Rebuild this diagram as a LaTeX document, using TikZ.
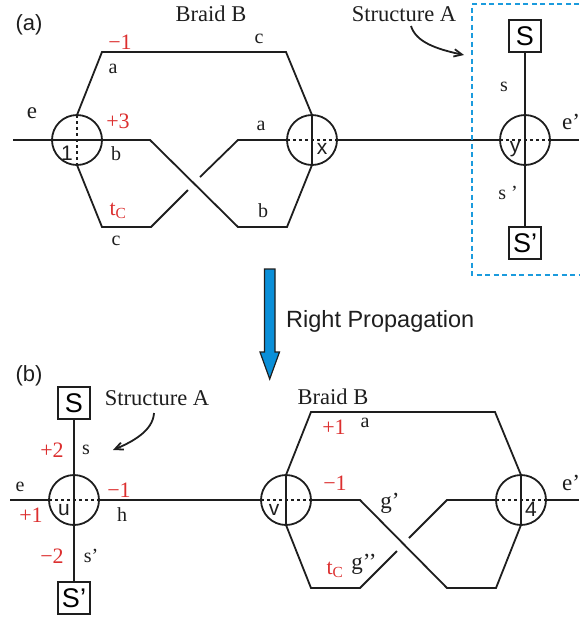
\documentclass[tikz,border=0pt]{standalone}
\usepackage{fontspec}
\setmainfont{Liberation Serif}
\newfontfamily\arialf{Liberation Sans}
\usetikzlibrary{arrows.meta}
\definecolor{lblred}{HTML}{DC2F2F}
\definecolor{inkc}{HTML}{1E1E1E}
\definecolor{boxblue}{HTML}{1B9BDD}
\definecolor{arrowblue}{HTML}{0A8FD8}
\newcommand{\sansmark}{\arialf\fontsize{21}{21}\selectfont}
\tikzset{
  wire/.style={draw=inkc,line width=1.8pt,line join=miter},
  dotwire/.style={draw=inkc,line width=1.8pt,dash pattern=on 3pt off 3pt},
  junction/.style={circle,draw=inkc,line width=1.8pt,minimum size=50pt,inner sep=0pt,outer sep=0pt},
  endbox/.style={rectangle,draw=inkc,line width=1.8pt,minimum size=32pt,inner sep=0pt,outer sep=0pt,font=\arialf\fontsize{27}{27}\selectfont},
  lbl/.style={inner sep=0pt,text=inkc,font=\fontsize{20}{20}\selectfont},
  big/.style={inner sep=0pt,text=inkc,font=\fontsize{23}{23}\selectfont},
  redl/.style={inner sep=0pt,text=lblred,font=\fontsize{22}{22}\selectfont},
  title/.style={inner sep=0pt,text=inkc,font=\fontsize{22.5}{22.5}\selectfont},
  sanl/.style={inner sep=0pt,text=inkc,font=\arialf\fontsize{23.5}{23.5}\selectfont},
  curvearrow/.style={draw=inkc,line width=1.8pt,-{Straight Barb[length=8pt,width=15pt,angle'=50]}},
}
\begin{document}
\begin{tikzpicture}[x=1pt,y=-1pt]
\useasboundingbox (0,0) rectangle (579,619);
% ---------- (a) ----------
\node[junction] (c1) at (77,140) {};
\node[junction] (cx) at (312,140) {};
\node[junction] (cy) at (525,140) {};
\node[endbox] (S1) at (525,36) {S};
\node[endbox] (S1p) at (525,243) {S’};
\coordinate (eL) at (13,140);
\coordinate (eR) at (579,140);
\coordinate (ta1) at (102,52); \coordinate (ta2) at (286,52);
\coordinate (ba1) at (102,227); \coordinate (ba2) at (151,227);
\coordinate (ga1) at (188,190); \coordinate (ga2) at (200,177);
\coordinate (ma1) at (238,140);
\coordinate (mb1) at (150,140); \coordinate (mb2) at (238,227); \coordinate (mb3) at (287,227);
\draw[wire] (eL) -- (c1.west) -- (c1.east) -- (mb1) -- (mb2) -- (mb3) -- (cx.south);
\draw[wire] (c1.north) -- (ta1) -- (ta2) -- (cx.north);
\draw[wire] (c1.south) -- (ba1) -- (ba2) -- (ga1);
\draw[wire] (ga2) -- (ma1) -- (cx.west);
\draw[dotwire] (c1.north) -- (c1.south);
\draw[wire] (cx.north) -- (cx.south);
\draw[dotwire] (cx.west) -- (cx.east);
\draw[wire] (cx.east) -- (cy.west);
\draw[wire] (cy.east) -- (eR);
\draw[wire] (S1.south) -- (cy.north) -- (cy.south) -- (S1p.north);
\draw[dotwire] (cy.west) -- (cy.east);
\coordinate (bx1) at (579,4); \coordinate (bx2) at (472,4); \coordinate (bx3) at (472,275); \coordinate (bx4) at (579,275);
\draw[boxblue,line width=1.8pt,dash pattern=on 5pt off 3.5pt] (bx1) -- (bx2) -- (bx3) -- (bx4);
\node[big] (tagA) at (29,25) {\arialf\fontsize{22}{22}\selectfont (a)};
\node[title] (brA) at (211,14) {Braid B};
\node[title] (stA) at (404,14) {Structure A};
\coordinate (arA1) at (411,26); \coordinate (arA2) at (464,55);
\draw[curvearrow] (arA1) .. controls (416,42) and (436,49) .. (arA2);
\node[big] (le) at (32,113) {e};
\node[redl] (l1) at (120,42) {−1};
\node[lbl] (l2) at (113,69) {a};
\node[lbl] (l3) at (259,39) {c};
\node[redl] (l4) at (118,121) {+3};
\node[lbl] (l5) at (116,154) {b};
\node[inner sep=0pt,text=inkc,font=\sansmark] (l6) at (67,153) {1};
\node[redl] (l7) at (118,211) {t\textsubscript{C}};
\node[lbl] (l8) at (116,241) {c};
\node[lbl] (l9) at (261,126) {a};
\node[lbl] (l10) at (263,211) {b};
\node[inner sep=0pt,text=inkc,font=\sansmark] (lx) at (322,149) {x};
\node[inner sep=0pt,text=inkc,font=\sansmark] (ly) at (515,149) {y};
\node[lbl] (ls) at (504,87) {s};
\node[lbl] (lsp) at (508,193) {s ’};
\node[big,anchor=west] (lep) at (562,122) {e’};
% ---------- block arrow ----------
\fill[arrowblue,draw=inkc,line width=1.2pt,line join=miter] (264.5,269) -- (275,269) -- (275,352) -- (279.5,352) -- (269.7,379) -- (260,352) -- (264.5,352) -- cycle;
\node[sanl,anchor=west] (prop) at (286,321) {Right Propagation};
% ---------- (b) ----------
\node[junction] (cu) at (74,500) {};
\node[junction] (cv) at (286,500) {};
\node[junction] (c4) at (521,500) {};
\node[endbox] (S2) at (74,403) {S};
\node[endbox] (S2p) at (74,598) {S’};
\coordinate (fL) at (10,500);
\coordinate (fR) at (579,500);
\coordinate (tb1) at (311,412); \coordinate (tb2) at (495,412);
\coordinate (bb1) at (311,588); \coordinate (bb2) at (360,588);
\coordinate (gb1) at (397,551); \coordinate (gb2) at (409,538);
\coordinate (nb1) at (447,500);
\coordinate (pb1) at (360,500); \coordinate (pb2) at (447,588); \coordinate (pb3) at (496,588);
\draw[wire] (fL) -- (cu.west);
\draw[wire] (S2.south) -- (cu.north) -- (cu.south) -- (S2p.north);
\draw[dotwire] (cu.west) -- (cu.east);
\draw[wire] (cu.east) -- (cv.west);
\draw[dotwire] (cv.west) -- (cv.east);
\draw[wire] (cv.north) -- (cv.south);
\draw[wire] (cv.north) -- (tb1) -- (tb2) -- (c4.north);
\draw[wire] (cv.south) -- (bb1) -- (bb2) -- (gb1);
\draw[wire] (gb2) -- (nb1) -- (c4.west);
\draw[wire] (cv.east) -- (pb1) -- (pb2) -- (pb3) -- (c4.south);
\draw[wire] (c4.north) -- (c4.south);
\draw[dotwire] (c4.west) -- (c4.east);
\draw[wire] (c4.east) -- (fR);
\node[big] (tagB) at (29,376) {\arialf\fontsize{22}{22}\selectfont (b)};
\node[title] (stB) at (157,398) {Structure A};
\node[title] (brB) at (333,397) {Braid B};
\coordinate (arB1) at (154,413); \coordinate (arB2) at (113,450);
\draw[curvearrow] (arB1) .. controls (153,431) and (132,442) .. (arB2);
\node[redl] (m1) at (52,450) {+2};
\node[lbl] (m2) at (86,450) {s};
\node[lbl] (m3) at (20,487) {e};
\node[redl] (m4) at (31,515) {+1};
\node[inner sep=0pt,text=inkc,font=\sansmark] (lu) at (64,510) {u};
\node[redl] (m5) at (119,490) {−1};
\node[lbl] (m6) at (122,515) {h};
\node[inner sep=0pt,text=inkc,font=\sansmark] (lv) at (274,510) {v};
\node[redl] (m7) at (52,556) {−2};
\node[lbl] (m8) at (91,556) {s’};
\node[redl] (m9) at (334,427) {+1};
\node[lbl] (m10) at (365,423) {a};
\node[redl] (m11) at (335,483) {−1};
\node[big] (m12) at (390,503) {g’};
\node[redl] (m13) at (335,570) {t\textsubscript{C}};
\node[big] (m14) at (364,564) {g’’};
\node[inner sep=0pt,text=inkc,font=\sansmark] (l4n) at (531,509) {4};
\node[big,anchor=west] (lfp) at (562,483) {e’};
\end{tikzpicture}
\end{document}
